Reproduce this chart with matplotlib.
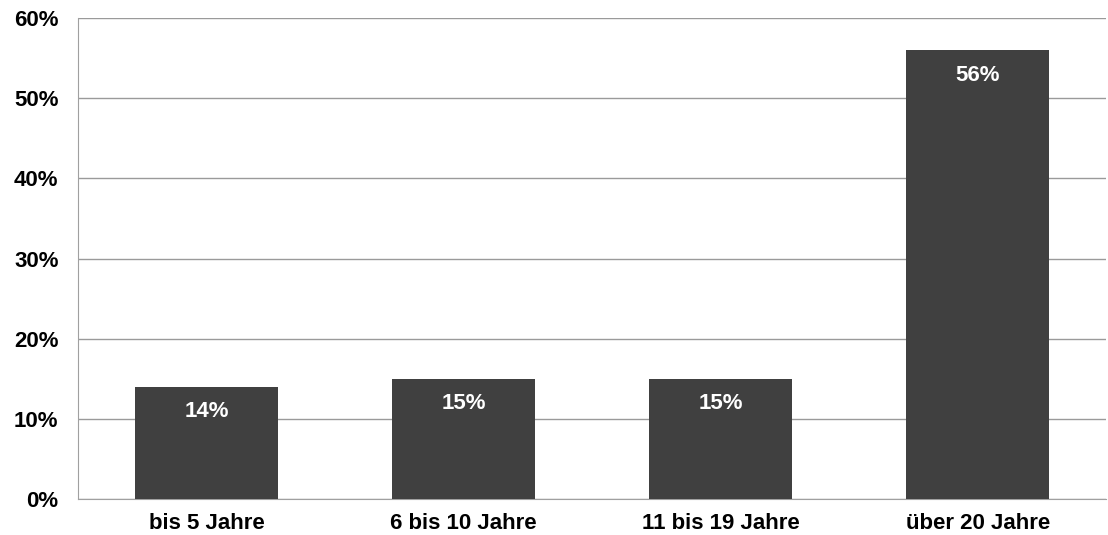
import matplotlib.pyplot as plt
from matplotlib.ticker import PercentFormatter

plt.rcParams['font.family'] = ['Liberation Sans', 'DejaVu Sans']

categories = ['bis 5 Jahre', '6 bis 10 Jahre', '11 bis 19 Jahre', 'über 20 Jahre']
shares = [14, 15, 15, 56]
value_labels = ['14%', '15%', '15%', '56%']

fig = plt.figure(figsize=(11.08, 5.35), dpi=100)
ax = fig.add_axes([0.0704, 0.0673, 0.928, 0.899])

x = range(len(categories))
bars = ax.bar(x, shares, width=0.556, color='#404040', zorder=3)

for bar, lab in zip(bars, value_labels):
    ax.annotate(lab, (bar.get_x() + bar.get_width() / 2, bar.get_height()),
                xytext=(0, -18), textcoords='offset points', ha='center', va='center',
                color='white', fontsize=16, fontweight='bold', zorder=4)

ax.set_xlim(-0.5, 3.5)
ax.set_ylim(0, 60)
ax.set_yticks(range(0, 61, 10))
ax.yaxis.set_major_formatter(PercentFormatter(decimals=0))
ax.set_xticks(list(x))
ax.set_xticklabels(categories)
ax.tick_params(length=0, labelsize=16)
for t in ax.get_xticklabels() + ax.get_yticklabels():
    t.set_fontweight('bold')
ax.tick_params(axis='x', pad=10)
ax.tick_params(axis='y', pad=14)

ax.yaxis.grid(True, color='#9a9a9a', linewidth=1, zorder=0)
for side in ['top', 'right']:
    ax.spines[side].set_visible(False)
ax.spines['left'].set_color('#a0a0a0')
ax.spines['bottom'].set_color('#a0a0a0')

plt.savefig('out.png', dpi=100)
